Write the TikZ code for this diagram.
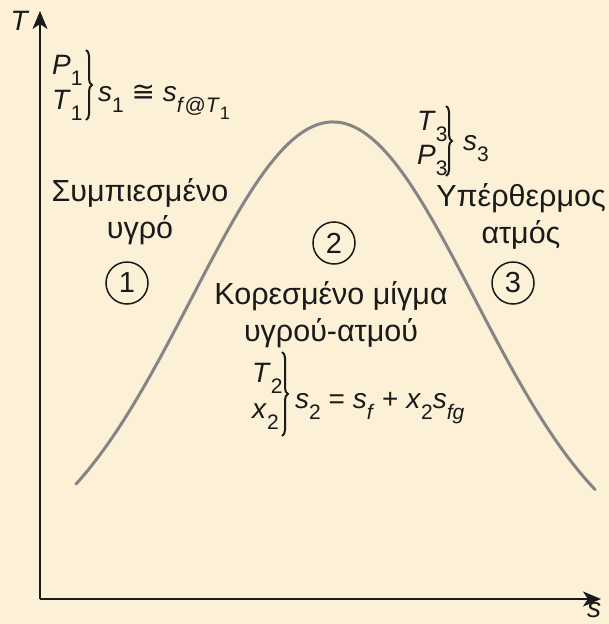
\documentclass[tikz,border=0pt]{standalone}
\usepackage{fontspec}
\setmainfont{Liberation Sans}
\newfontfamily\dvs{DejaVu Sans}
\usetikzlibrary{arrows.meta,decorations.pathreplacing}
\definecolor{bg}{HTML}{FCF0D6}
\definecolor{ink}{HTML}{1A1A1A}
\definecolor{curvegray}{HTML}{858585}
\newcommand\lw[1]{\raisebox{-0.42em}{\fontsize{21}{21}\selectfont #1}}
\newcommand\lwb[1]{\raisebox{-0.3em}{\fontsize{18}{18}\selectfont #1}}
\tikzset{
  axis/.style={line width=2pt, draw=ink, -{Stealth[length=18pt,width=15pt,inset=5pt]}},
  region/.style={font=\fontsize{30.5}{37}\selectfont, text=ink, align=center, inner sep=0pt},
  lbl/.style={font=\fontsize{28}{30}\selectfont, text=ink, inner sep=0pt},
  num/.style={circle, draw=ink, line width=1.5pt, minimum size=42pt, inner sep=0pt, font=\fontsize{29}{30}\selectfont, text=ink},
  brc/.style={decorate, decoration={brace, amplitude=6pt}, line width=2pt, draw=ink},
  satcurve/.style={draw=curvegray, line width=3pt, line cap=round}
}
\begin{document}
\begin{tikzpicture}[x=1pt, y=-1pt]
\fill[bg] (0,0) rectangle (609,624);
\useasboundingbox (0,0) rectangle (609,624);
% axes
\coordinate (O) at (40,599);
\coordinate (Ttip) at (40,11);
\coordinate (Stip) at (601,599);
\draw[axis] (O) -- (Ttip);
\draw[axis] (O) -- (Stip);
\node[lbl] (Tl) at (20,21) {\textit{T}};
\node[lbl] (sl) at (594,610) {\textit{s}};
% saturation dome
\draw[satcurve] plot[domain=-257:262, samples=150, smooth] ({333+\x}, {570-448*exp(-(\x/200)^2)});
% block 1
\node[lbl, anchor=base west] (P1) at (52,74) {\textit{P}\lw{1}};
\node[lbl, anchor=base west] (T1) at (52,109) {\textit{T}\lw{1}};
\coordinate (b1t) at (86,50);
\coordinate (b1b) at (86,120);
\draw[brc] (b1t) -- (b1b);
\node[lbl, anchor=base west] (eq1) at (98,101) {\textit{s}\lw{1} {\dvs ≅} \textit{s}\lw{\textit{f}@\textit{T}\lwb{1}}};
% block 3
\node[lbl, anchor=base west] (T3) at (417,130) {\textit{T}\lw{3}};
\node[lbl, anchor=base west] (P3) at (417,164) {\textit{P}\lw{3}};
\coordinate (b3t) at (446,106);
\coordinate (b3b) at (446,176);
\draw[brc] (b3t) -- (b3b);
\node[lbl, anchor=base west] (eq3) at (463,150) {\textit{s}\lw{3}};
% block 2
\node[lbl, anchor=base west] (T2) at (252,382) {\textit{T}\lw{2}};
\node[lbl, anchor=base west] (x2) at (252,418) {\textit{x}\lw{2}};
\coordinate (b2t) at (282,352);
\coordinate (b2b) at (282,436);
\draw[brc] (b2t) -- (b2b);
\node[lbl, anchor=base west] (eq2) at (295,408) {\textit{s}\lw{2} = \textit{s}\lw{\textit{f}} + \textit{x}\lw{2}\textit{s}\lw{\textit{fg}}};
% regions
\node[region] (r1) at (140,212) {Συμπιεσμένο\\υγρό};
\node[num] (n1) at (127,283) {1};
\node[num] (n2) at (334,243) {2};
\node[region] (r2) at (331,315) {Κορεσμένο μίγμα\\υγρού-ατμού};
\node[region] (r3) at (521,216) {Υπέρθερμος\\ατμός};
\node[num] (n3) at (513,283) {3};
\end{tikzpicture}
\end{document}
